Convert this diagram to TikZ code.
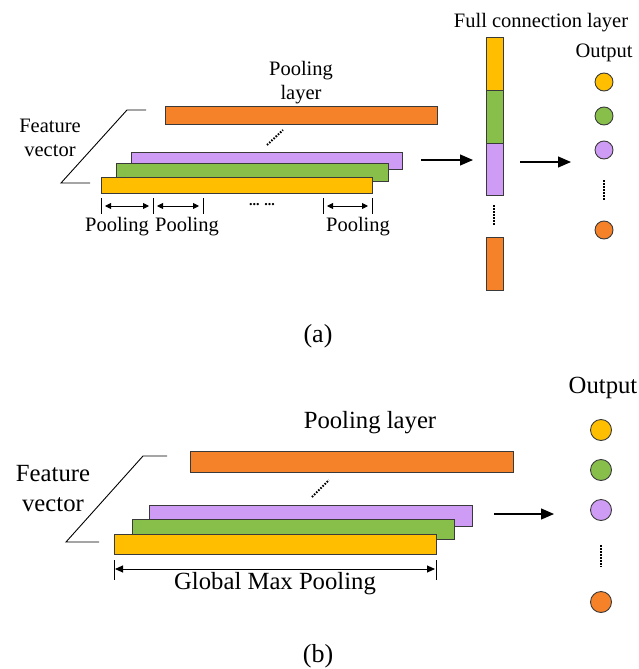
\documentclass[tikz,border=0pt]{standalone}
\usepackage{fontspec}
\setmainfont{Liberation Serif}
\usetikzlibrary{arrows.meta}
\definecolor{corange}{HTML}{F58229}
\definecolor{cpurple}{HTML}{CE9CF4}
\definecolor{cgreen}{HTML}{88BF4B}
\definecolor{cyellow}{HTML}{FFBF00}
\definecolor{cedge}{HTML}{3A3A3A}
\tikzset{
  bar/.style={draw=cedge, line width=0.9pt, inner sep=0pt, outer sep=0pt},
  outc/.style={circle, draw=cedge, line width=0.9pt, inner sep=0pt},
  bigarrow/.style={line width=1.2pt, -{Triangle[length=13pt,width=11pt]}},
  smallarrow/.style={line width=0.9pt, {Triangle[length=6pt,width=6pt]}-{Triangle[length=6pt,width=6pt]}},
  tick/.style={line width=0.8pt},
  dotline/.style={line width=2pt, dash pattern=on 1.5pt off 1.5pt},
  bracket/.style={line width=0.9pt},
  fa/.style={font=\fontsize{20.5}{24}\selectfont, inner sep=0pt},
  fb/.style={font=\fontsize{24.7}{30}\selectfont, inner sep=0pt},
}
\begin{document}
\begin{tikzpicture}[x=1pt,y=-1pt]
\useasboundingbox (0,0) rectangle (639,669);
% ================= (a) =================
\node[bar, fill=corange, minimum width=272pt, minimum height=18pt] (aor) at (301,115) {};
\node[bar, fill=cpurple, minimum width=271pt, minimum height=17pt] (apu) at (266.5,160.5) {};
\node[bar, fill=cgreen, minimum width=272pt, minimum height=18pt] (agr) at (252,172) {};
\node[bar, fill=cyellow, minimum width=271pt, minimum height=16pt] (aye) at (236.5,185) {};
\coordinate (ad1) at (267,145);
\coordinate (ad2) at (283,130);
\draw[dotline] (ad1) -- (ad2);
\node[fa, align=center] (aplab) at (301,83) {Pooling\\layer};
% feature bracket
\coordinate (ab1) at (146,110);
\coordinate (ab2) at (127,110);
\coordinate (ab3) at (61,183);
\coordinate (ab4) at (90,183);
\draw[bracket] (ab1) -- (ab2) -- (ab3) -- (ab4);
\node[fa, align=center] (afv) at (50,138) {Feature\\vector};
% pooling windows
\foreach \x/\n in {101/t1,153/t2,203/t3,323/t4,372/t5}{
  \coordinate (a\n u) at (\x,198);
  \coordinate (a\n d) at (\x,214);
  \draw[tick] (a\n u) -- (a\n d);
}
\coordinate (aw1a) at (105,206); \coordinate (aw1b) at (149,206);
\coordinate (aw2a) at (157,206); \coordinate (aw2b) at (199,206);
\coordinate (aw3a) at (327,206); \coordinate (aw3b) at (368,206);
\draw[smallarrow] (aw1a) -- (aw1b);
\draw[smallarrow] (aw2a) -- (aw2b);
\draw[smallarrow] (aw3a) -- (aw3b);
\node[font=\fontsize{14}{14}\selectfont, inner sep=0pt] (adots) at (262,205) {\textbf{... ...}};
\node[fa] (apl1) at (117,227) {Pooling};
\node[fa] (apl2) at (187,227) {Pooling};
\node[fa] (apl3) at (358,227) {Pooling};
% arrow to FC
\coordinate (aa1) at (421,160);
\coordinate (aa2) at (473,160);
\draw[bigarrow] (aa1) -- (aa2);
% FC layer
\node[fa] (afc) at (541,23) {Full connection layer};
\node[bar, fill=cyellow, minimum width=17pt, minimum height=53pt] (fc1) at (494.5,63.5) {};
\node[bar, fill=cgreen, minimum width=17pt, minimum height=53pt] (fc2) at (494.5,116.5) {};
\node[bar, fill=cpurple, minimum width=17pt, minimum height=52pt] (fc3) at (494.5,169) {};
\node[bar, fill=corange, minimum width=17pt, minimum height=53pt] (fc4) at (494.5,263.5) {};
\coordinate (afd1) at (494,205);
\coordinate (afd2) at (494,225);
\draw[dotline] (afd1) -- (afd2);
% arrow to output
\coordinate (ab5) at (520,162);
\coordinate (ab6) at (571,162);
\draw[bigarrow] (ab5) -- (ab6);
\node[fa] (aout) at (604,53) {Output};
\node[outc, fill=cyellow, minimum size=18pt] (ao1) at (604,82) {};
\node[outc, fill=cgreen, minimum size=18pt] (ao2) at (604,116) {};
\node[outc, fill=cpurple, minimum size=18pt] (ao3) at (604,150) {};
\node[outc, fill=corange, minimum size=18pt] (ao4) at (604,230) {};
\coordinate (aod1) at (604,180);
\coordinate (aod2) at (604,200);
\draw[dotline] (aod1) -- (aod2);
\node[font=\fontsize{26}{26}\selectfont, inner sep=0pt] (alab) at (318,336) {(a)};
% ================= (b) =================
\node[bar, fill=corange, minimum width=323pt, minimum height=21pt] (bor) at (351.5,461.5) {};
\node[bar, fill=cpurple, minimum width=323pt, minimum height=21pt] (bpu) at (310.5,515.5) {};
\node[bar, fill=cgreen, minimum width=322pt, minimum height=20pt] (bgr) at (293,529) {};
\node[bar, fill=cyellow, minimum width=322pt, minimum height=20pt] (bye) at (275,544) {};
\coordinate (bd1) at (312,497);
\coordinate (bd2) at (329,480);
\draw[dotline] (bd1) -- (bd2);
\node[fb] (bplab) at (370,423) {Pooling layer};
\coordinate (bb1) at (167,456);
\coordinate (bb2) at (143,456);
\coordinate (bb3) at (66,542);
\coordinate (bb4) at (99,542);
\draw[bracket] (bb1) -- (bb2) -- (bb3) -- (bb4);
\node[fb, align=center] (bfv) at (53,489) {Feature\\vector};
\coordinate (bt1u) at (114,560); \coordinate (bt1d) at (114,580);
\coordinate (bt2u) at (436,560); \coordinate (bt2d) at (436,580);
\draw[tick] (bt1u) -- (bt1d);
\draw[tick] (bt2u) -- (bt2d);
\coordinate (bg1) at (115,569);
\coordinate (bg2) at (435,569);
\draw[line width=0.9pt, {Triangle[length=8pt,width=7pt]}-{Triangle[length=8pt,width=7pt]}] (bg1) -- (bg2);
\node[fb] (bgmp) at (275,584) {Global Max Pooling};
\coordinate (ba1) at (494,514);
\coordinate (ba2) at (554,514);
\draw[bigarrow] (ba1) -- (ba2);
\node[fb] (bout) at (603,388) {Output};
\node[outc, fill=cyellow, minimum size=21pt] (bo1) at (601,430) {};
\node[outc, fill=cgreen, minimum size=21pt] (bo2) at (601,470) {};
\node[outc, fill=cpurple, minimum size=21pt] (bo3) at (601,510) {};
\node[outc, fill=corange, minimum size=21pt] (bo4) at (601,602) {};
\coordinate (bod1) at (601,545);
\coordinate (bod2) at (601,567);
\draw[dotline] (bod1) -- (bod2);
\node[font=\fontsize{26}{26}\selectfont, inner sep=0pt] (blab) at (318,656) {(b)};
\end{tikzpicture}
\end{document}
